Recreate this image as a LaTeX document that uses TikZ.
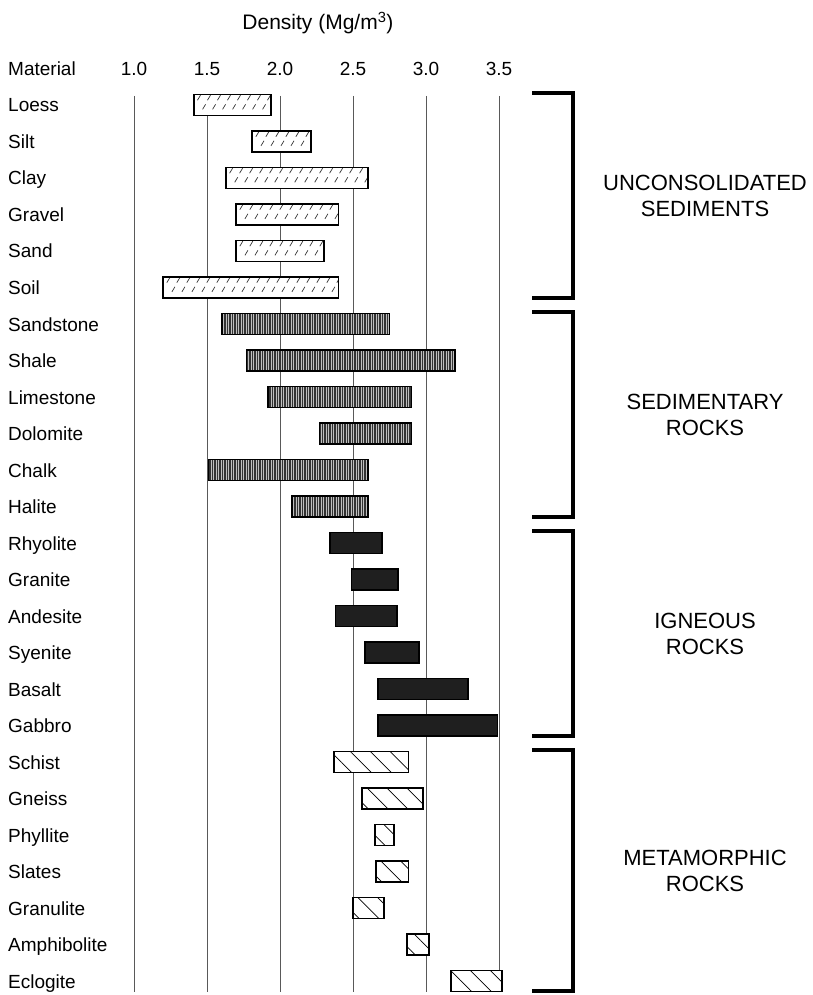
\documentclass[tikz,border=0pt]{standalone}
\usepackage{fontspec}
\setmainfont{Liberation Sans}
\usetikzlibrary{patterns.meta}

\newcommand{\rowfont}{\fontsize{19}{22}\selectfont}
\newcommand{\headfont}{\fontsize{21}{24}\selectfont}
\newcommand{\groupfont}{\fontsize{22}{26}\selectfont}

\tikzset{
  gridline/.style={black!65, line width=0.7pt},
  barframe/.style={draw=black, line width=1.8pt},
  unconbar/.style={barframe},
  sedbar/.style={barframe, preaction={fill=black!25},
    pattern={Lines[angle=90,distance=2.5pt,line width=1.2pt]}, pattern color=black!80},
  ignbar/.style={barframe, fill=black!88},
  metabar/.style={barframe, preaction={fill=white},
    pattern={Lines[angle=-45,distance=14pt,line width=0.7pt]}},
  grainmark/.style={line width=0.7pt, black!80},
  matlabel/.style={anchor=base west, inner sep=0pt, yshift=-7pt, font=\rowfont},
  scalelabel/.style={anchor=base, inner sep=0pt, yshift=-7pt, font=\rowfont},
  bracketline/.style={line width=4pt},
  grouplabel/.style={align=center, inner sep=0pt, font=\groupfont},
}

\begin{document}
\begin{tikzpicture}[x=146pt, y=-36.5pt]
  \useasboundingbox (0.08219,-2.87671) rectangle (5.64384,24.38356);
  % axis head
  \node[font=\headfont] (title) at (2.26,-2.25) {Density (Mg/m\textsuperscript{3})};
  \node[matlabel] (material) at (0.137,-1.01) {Material};
  \foreach \v [count=\j] in {1.0,1.5,2.0,2.5,3.0,3.5} {
    \node[scalelabel] (scale\j) at (\v,-1.01) {\v};
    \draw[gridline] (\v,-0.25) -- (\v,24.3);
  }
  % unconsolidated sediments
  \foreach \name/\lo/\hi [count=\i from 0] in {Loess/1.41/1.94, Silt/1.81/2.21,
      Clay/1.63/2.60, Gravel/1.70/2.40, Sand/1.70/2.30, Soil/1.20/2.40} {
    \node[matlabel] (mat\i) at (0.137,\i) {\name};
    \begin{scope}
      \clip (\lo,\i-0.29) rectangle (\hi,\i+0.29);
      \fill[white] (\lo,\i-0.29) rectangle (\hi,\i+0.29);
      \foreach \k in {0,...,18} {
        \draw[grainmark] (\lo+0.035+0.0685*\k,\i-0.2) ++(-1.5pt,-2.5pt) -- ++(3pt,5pt);
        \draw[grainmark] (\lo+0.07+0.0685*\k,\i+0.05) ++(-1.5pt,-2.5pt) -- ++(3pt,5pt);
      }
    \end{scope}
    \draw[unconbar] (\lo,\i-0.29) rectangle (\hi,\i+0.29);
  }
  % sedimentary rocks
  \foreach \name/\lo/\hi [count=\i from 6] in {Sandstone/1.60/2.75, Shale/1.77/3.20,
      Limestone/1.92/2.90, Dolomite/2.27/2.90, Chalk/1.51/2.60, Halite/2.08/2.60} {
    \node[matlabel] (mat\i) at (0.137,\i) {\name};
    \draw[sedbar] (\lo,\i-0.29) rectangle (\hi,\i+0.29);
  }
  % igneous rocks
  \foreach \name/\lo/\hi [count=\i from 12] in {Rhyolite/2.34/2.70, Granite/2.49/2.81,
      Andesite/2.38/2.80, Syenite/2.58/2.95, Basalt/2.67/3.29, Gabbro/2.67/3.49} {
    \node[matlabel] (mat\i) at (0.137,\i) {\name};
    \draw[ignbar] (\lo,\i-0.29) rectangle (\hi,\i+0.29);
  }
  % metamorphic rocks
  \foreach \name/\lo/\hi [count=\i from 18] in {Schist/2.37/2.88, Gneiss/2.56/2.98,
      Phyllite/2.65/2.78, Slates/2.66/2.88, Granulite/2.50/2.71,
      Amphibolite/2.87/3.02, Eclogite/3.17/3.52} {
    \node[matlabel] (mat\i) at (0.137,\i) {\name};
    \draw[metabar] (\lo,\i-0.29) rectangle (\hi,\i+0.29);
  }
  % group brackets
  \foreach \top/\bot in {-0.32/5.28, 5.68/11.28, 11.68/17.28, 17.68/24.28} {
    \draw[bracketline] (3.726,\top) -| (4.007,\bot) -- (3.726,\bot);
  }
  \node[grouplabel] (uncon) at (4.911,2.48) {UNCONSOLIDATED\\SEDIMENTS};
  \node[grouplabel] (sedim) at (4.911,8.48) {SEDIMENTARY\\ROCKS};
  \node[grouplabel] (igneous) at (4.911,14.48) {IGNEOUS\\ROCKS};
  \node[grouplabel] (meta) at (4.911,20.98) {METAMORPHIC\\ROCKS};
\end{tikzpicture}
\end{document}
